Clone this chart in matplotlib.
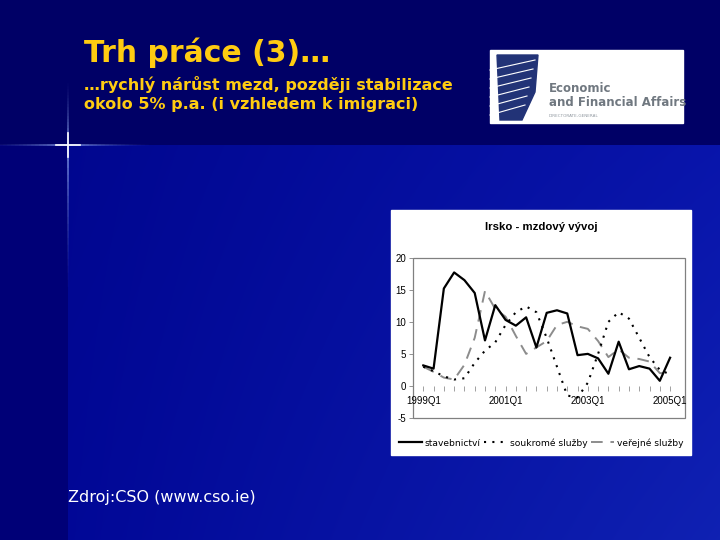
import numpy as np
import matplotlib
matplotlib.use('Agg')
import matplotlib.pyplot as plt
from matplotlib.patches import Rectangle, Polygon

# data
quarters = ['1999Q1', '1999Q2', '1999Q3', '1999Q4', '2000Q1', '2000Q2', '2000Q3', '2000Q4',
            '2001Q1', '2001Q2', '2001Q3', '2001Q4', '2002Q1', '2002Q2', '2002Q3', '2002Q4',
            '2003Q1', '2003Q2', '2003Q3', '2003Q4', '2004Q1', '2004Q2', '2004Q3', '2004Q4',
            '2005Q1']
stavebnictvi = [3.2, 2.7, 15.2, 17.7, 16.5, 14.5, 7.1, 12.6, 10.3, 9.4, 10.7, 6.0, 11.4, 11.8,
                11.3, 4.8, 5.0, 4.3, 1.9, 6.9, 2.6, 3.1, 2.7, 0.8, 4.4]
soukrome = [3.0, 2.3, 1.5, 1.0, 1.2, 3.6, 5.5, 6.8, 9.5, 11.5, 12.4, 11.5, 7.5, 3.0, -1.5,
            -1.8, 0.5, 5.0, 10.0, 11.5, 10.5, 7.5, 4.5, 2.5, 1.8]
verejne = [3.0, 2.2, 1.3, 1.0, 3.3, 7.5, 14.8, 12.0, 10.8, 7.8, 5.0, 6.0, 7.0, 9.5, 10.0,
           9.3, 8.9, 7.0, 4.5, 5.7, 4.4, 4.2, 3.8, 2.0, 2.0]
yticks = [-5, 0, 5, 10, 15, 20]
legend_labels = ['stavebnictví', 'soukromé služby', 'veřejné služby']

W, H = 720, 540
fig = plt.figure(figsize=(7.2, 5.4), dpi=100)

# slide background
xx, yy = np.meshgrid(np.linspace(0, 1, W), np.linspace(0, 1, H))
img = np.zeros((H, W, 3))
img[..., 0] = 0.00 + 0.06 * xx * (0.4 + 0.6 * yy)
img[..., 1] = 0.02 + 0.11 * xx * (0.4 + 0.6 * yy)
img[..., 2] = 0.54 + 0.12 * xx + 0.04 * yy
img[:, :68, :] = [0.0, 0.0, 0.47]
img[:145, :, :] = [0.0, 0.0, 0.40]
bg = fig.add_axes([0, 0, 1, 1])
bg.imshow(img, extent=[0, W, H, 0], aspect='auto')
bg.set_xlim(0, W)
bg.set_ylim(H, 0)
bg.axis('off')

# light cross
for i in range(20):
    a = (1 - i / 20) ** 2
    bg.plot([68 - 4 * i - 4, 68 + 4 * i + 4], [145, 145], color='#9fb8ff', lw=1.2, alpha=0.12 * a + 0.02)
    bg.plot([68, 68], [145 - 3 * i - 4, 145 + 7 * i + 8], color='#9fb8ff', lw=1.2, alpha=0.12 * a + 0.02)
bg.plot([56, 80], [145, 145], color='white', lw=1.2)
bg.plot([68, 68], [133, 157], color='white', lw=1.2)

# texts
bg.text(84, 62, 'Trh práce (3)…', color='#ffcc11', fontsize=21.5, fontweight='bold',
        family='DejaVu Sans', va='baseline')
bg.text(84, 90, '…rychlý nárůst mezd, později stabilizace', color='#ffcc11', fontsize=11.5,
        fontweight='bold', family='DejaVu Sans', va='baseline')
bg.text(84, 109, 'okolo 5% p.a. (i vzhledem k imigraci)', color='#ffcc11', fontsize=11.5,
        fontweight='bold', family='DejaVu Sans', va='baseline')
bg.text(68, 502, 'Zdroj:CSO (www.cso.ie)', color='white', fontsize=11.5,
        family='DejaVu Sans', va='baseline')

# logo
bg.add_patch(Rectangle((490, 50), 193, 73, color='white', zorder=3))
bg.add_patch(Polygon([[497, 55], [538, 55], [535, 92], [522, 120], [500, 120]],
                     closed=True, color='#223377', zorder=4))
for k in range(6):
    bg.plot([490, 535 - 2 * k], [70 + 9 * k, 60 + 9 * k], color='white', lw=0.8, zorder=5)
bg.text(549, 92, 'Economic', color='#707880', fontsize=8.5, fontweight='bold', zorder=5)
bg.text(549, 106, 'and Financial Affairs', color='#707880', fontsize=8.5, fontweight='bold', zorder=5)
bg.text(549, 117, 'DIRECTORATE-GENERAL', color='#9098a0', fontsize=3, zorder=5)

# chart panel
bg.add_patch(Rectangle((391, 210), 300, 245, color='white', zorder=3))
bg.text(541, 230, 'Irsko - mzdový vývoj', color='black', fontsize=8.2, ha='center',
        family='Liberation Sans', fontweight='bold', zorder=5)

ax = fig.add_axes([413 / W, 1 - 418 / H, 272 / W, 160.3 / H])
ax.patch.set_alpha(0)
x = np.arange(len(quarters))
ax.plot(x, stavebnictvi, color='black', lw=1.6, label=legend_labels[0], zorder=4)
ax.plot(x, soukrome, color='black', lw=1.5, linestyle=(0, (1, 3)), label=legend_labels[1], zorder=3)
ax.plot(x, verejne, color='#8c8c8c', lw=1.4, linestyle=(0, (6, 4)), label=legend_labels[2], zorder=2)

ax.set_xlim(-1.0, 25.45)
ax.set_ylim(-5, 20)
ax.set_yticks(yticks)
ax.set_yticklabels([str(v) for v in yticks], fontsize=7, family='Liberation Sans')
ax.tick_params(axis='y', length=3, width=0.6, color='#808080', pad=2)

for s in ['top', 'right', 'left']:
    ax.spines[s].set_visible(False)
ax.spines['bottom'].set_position(('data', 0))
ax.spines['bottom'].set_visible(False)
ax.set_xticks(x)
ax.set_xticklabels([q if i % 8 == 0 else '' for i, q in enumerate(quarters)],
                   fontsize=7, family='Liberation Sans')
ax.tick_params(axis='x', length=3.5, width=0.6, color='#909090', pad=4)
ax.add_patch(Rectangle((0, 0), 1, 1, transform=ax.transAxes, fill=False,
                       edgecolor='#808080', lw=0.9, clip_on=False))

leg = ax.legend(loc='center', bbox_to_anchor=(0.47, -0.155), ncol=3, frameon=False,
                fontsize=6.6, handlelength=2.5, columnspacing=0.4, handletextpad=0.3,
                borderaxespad=0)

fig.savefig('out.png', dpi=100)
